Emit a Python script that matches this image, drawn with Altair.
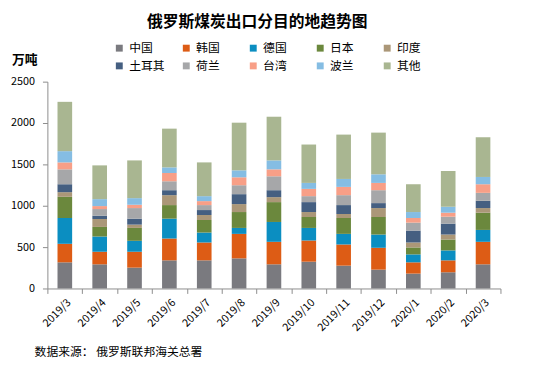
import altair as alt
import pandas as pd

months = ["2019/3", "2019/4", "2019/5", "2019/6", "2019/7", "2019/8", "2019/9",
          "2019/10", "2019/11", "2019/12", "2020/1", "2020/2", "2020/3"]
countries = ["中国", "韩国", "德国", "日本", "印度", "土耳其", "荷兰", "台湾", "波兰", "其他"]
colors = ["#7a7a7f", "#dd5c15", "#0b8ec1", "#6b883d", "#ab9778",
          "#455f81", "#a6a7a9", "#f89f87", "#85bde3", "#a9b691"]

china       = [316, 292, 252, 340, 340, 364, 292, 324, 276, 228, 180, 196, 292]
korea       = [224, 152, 192, 264, 216, 296, 272, 256, 256, 264, 136, 144, 272]
germany     = [312, 184, 132, 240, 120, 72, 240, 152, 128, 160, 96, 120, 144]
japan       = [256, 116, 156, 164, 152, 192, 240, 132, 192, 212, 84, 132, 208]
india       = [56, 96, 40, 120, 60, 96, 60, 60, 48, 108, 60, 60, 56]
turkey      = [96, 40, 72, 60, 60, 120, 84, 120, 108, 60, 144, 132, 88]
netherlands = [180, 80, 128, 108, 60, 108, 168, 72, 120, 156, 96, 84, 96]
taiwan      = [84, 36, 40, 100, 48, 96, 84, 88, 100, 88, 56, 48, 104]
poland      = [136, 84, 80, 68, 60, 84, 108, 72, 96, 104, 72, 72, 88]
other       = [596, 408, 456, 468, 408, 576, 528, 464, 536, 504, 336, 432, 480]

series = [china, korea, germany, japan, india, turkey, netherlands, taiwan, poland, other]

rows = []
for ci, (name, vals) in enumerate(zip(countries, series)):
    for m, v in zip(months, vals):
        rows.append({"month": m, "country": name, "value": v, "idx": ci})
df = pd.DataFrame(rows)

FONT = "Noto Sans CJK SC"

bars = alt.Chart(df).mark_bar(width={"band": 0.42}).encode(
    x=alt.X("month:N", sort=months,
            scale=alt.Scale(paddingInner=0, paddingOuter=0),
            axis=alt.Axis(title=None, labelAngle=-45, tickBand="extent",
                          labelFontSize=11, labelColor="#000000", labelFont=FONT,
                          domainColor="#8c8c8c", tickColor="#8c8c8c", tickSize=5,
                          labelPadding=3)),
    y=alt.Y("value:Q", stack="zero",
            scale=alt.Scale(domain=[0, 2500], nice=False),
            axis=alt.Axis(title=None, values=[0, 500, 1000, 1500, 2000, 2500],
                          format="d", grid=False, labelFontSize=11, labelColor="#000000",
                          labelFont=FONT, domainColor="#8c8c8c", tickColor="#8c8c8c",
                          tickSize=5, labelPadding=8)),
    color=alt.Color("country:N", sort=countries,
                    scale=alt.Scale(domain=countries, range=colors),
                    legend=alt.Legend(title=None, orient="none", legendX=67, legendY=-40,
                                      columns=5, direction="horizontal", gridAlign="all",
                                      symbolType="square", symbolSize=49, symbolStrokeWidth=0,
                                      labelFontSize=12, labelFont=FONT, labelColor="#000000",
                                      labelOffset=4, columnPadding=15, rowPadding=6,
                                      padding=0)),
    order=alt.Order("idx:Q", sort="ascending"),
)

title_df = pd.DataFrame({"t": ["俄罗斯煤炭出口分目的地趋势图"]})
title = alt.Chart(title_df).mark_text(font=FONT, fontSize=16, fontWeight="bold",
                                      align="center", baseline="middle", color="#000000").encode(
    x=alt.value(213), y=alt.value(-60), text="t:N")

unit_df = pd.DataFrame({"t": ["万吨"]})
unit = alt.Chart(unit_df).mark_text(font=FONT, fontSize=13, fontWeight="bold",
                                    align="left", baseline="middle", color="#000000").encode(
    x=alt.value(-36), y=alt.value(-22), text="t:N")

src_df = pd.DataFrame({"t": ["数据来源： 俄罗斯联邦海关总署"]})
src = alt.Chart(src_df).mark_text(font=FONT, fontSize=12,
                                  align="left", baseline="middle", color="#000000").encode(
    x=alt.value(-13), y=alt.value(65 + 210), text="t:N")

chart = alt.layer(bars, title, unit, src).properties(
    width=460, height=210,
    padding={"left": 40, "top": 72, "right": 31, "bottom": 81},
    autosize="none",
).configure_view(stroke=None)

chart.save("out.html", embed_options={"renderer": "svg", "actions": False})
